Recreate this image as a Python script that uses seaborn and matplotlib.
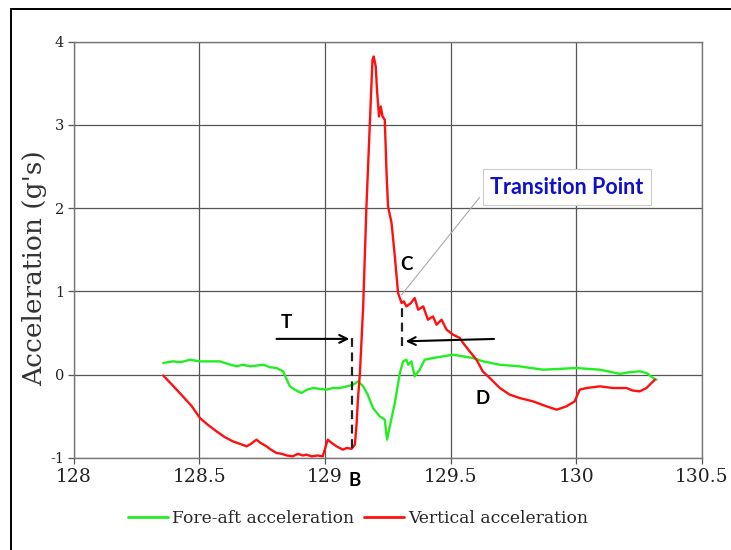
import numpy as np
import pandas as pd
import matplotlib
matplotlib.use("Agg")
import matplotlib.pyplot as plt
from matplotlib.lines import Line2D
import seaborn as sns

# Time (s) and accelerations (g's)
vertical_time = [128.356, 128.394, 128.434, 128.470, 128.502, 128.533, 128.568, 128.601,
                 128.633, 128.661, 128.688, 128.705, 128.727, 128.744, 128.767, 128.785,
                 128.807, 128.828, 128.848, 128.872, 128.892, 128.912, 128.926, 128.947,
                 128.971, 128.991, 129.001, 129.011, 129.027, 129.046, 129.071, 129.087,
                 129.106, 129.119, 129.126, 129.131, 129.139, 129.152, 129.165, 129.178,
                 129.189, 129.194, 129.202, 129.207, 129.215, 129.222, 129.229, 129.238,
                 129.245, 129.251, 129.265, 129.278, 129.291, 129.305, 129.314, 129.324,
                 129.342, 129.357, 129.371, 129.391, 129.410, 129.430, 129.444, 129.464,
                 129.484, 129.510, 129.537, 129.550, 129.576, 129.603, 129.628, 129.656,
                 129.696, 129.736, 129.775, 129.828, 129.882, 129.922, 129.961, 129.994,
                 130.014, 130.041, 130.094, 130.147, 130.200, 130.225, 130.253, 130.280,
                 130.313]
vertical_acc = [-0.01, -0.13, -0.26, -0.38, -0.52, -0.60, -0.68, -0.75,
                -0.80, -0.83, -0.86, -0.83, -0.78, -0.82, -0.86, -0.90,
                -0.94, -0.95, -0.97, -0.98, -0.95, -0.97, -0.96, -0.98,
                -0.97, -0.98, -0.88, -0.78, -0.82, -0.86, -0.90, -0.88,
                -0.89, -0.84, -0.58, -0.30, 0.02, 0.82, 2.02, 2.98,
                3.78, 3.82, 3.70, 3.42, 3.10, 3.22, 3.10, 3.06,
                2.42, 2.02, 1.82, 1.42, 0.98, 0.86, 0.88, 0.82,
                0.86, 0.92, 0.78, 0.82, 0.66, 0.70, 0.60, 0.66,
                0.54, 0.48, 0.44, 0.38, 0.28, 0.18, 0.04, -0.04,
                -0.16, -0.24, -0.28, -0.32, -0.38, -0.42, -0.38, -0.32,
                -0.18, -0.16, -0.14, -0.16, -0.16, -0.19, -0.20, -0.16,
                -0.06]

foreaft_time = [128.356, 128.395, 128.426, 128.462, 128.502, 128.541, 128.581, 128.613,
                128.648, 128.673, 128.701, 128.729, 128.754, 128.780, 128.807, 128.833,
                128.860, 128.880, 128.906, 128.928, 128.953, 128.979, 129.006, 129.031,
                129.059, 129.087, 129.112, 129.132, 129.152, 129.170, 129.191, 129.218,
                129.238, 129.247, 129.258, 129.278, 129.298, 129.311, 129.324, 129.331,
                129.344, 129.357, 129.377, 129.397, 129.430, 129.470, 129.510, 129.550,
                129.590, 129.629, 129.696, 129.775, 129.868, 129.935, 130.001, 130.094,
                130.174, 130.213, 130.253, 130.281, 130.306, 130.320]
foreaft_acc = [0.14, 0.16, 0.15, 0.18, 0.16, 0.16, 0.16, 0.13,
               0.10, 0.12, 0.10, 0.11, 0.12, 0.09, 0.08, 0.04,
               -0.14, -0.18, -0.22, -0.18, -0.16, -0.17, -0.18, -0.16,
               -0.16, -0.14, -0.12, -0.08, -0.14, -0.24, -0.40, -0.50,
               -0.54, -0.78, -0.62, -0.34, 0.02, 0.16, 0.18, 0.12,
               0.16, -0.02, 0.06, 0.18, 0.20, 0.22, 0.24, 0.22,
               0.20, 0.16, 0.12, 0.10, 0.06, 0.07, 0.08, 0.06,
               0.01, 0.03, 0.04, 0.02, -0.04, -0.06]

x_ticks = [128, 128.5, 129, 129.5, 130, 130.5]
x_tick_labels = ["128", "128.5", "129", "129.5", "130", "130.5"]
y_ticks = [-1, 0, 1, 2, 3, 4]
y_tick_labels = ["-1", "0", "1", "2", "3", "4"]

# Markers of the impact phases
t_bottom = 129.108        # B: start of the rise
t_transition = 129.305    # C: transition point
arrow_level = 0.43

sns.set_theme(style="white")
plt.rcParams["font.family"] = ["DejaVu Serif", "DejaVu Sans"]

fig = plt.figure(figsize=(7.31, 5.5), dpi=100)
ax = fig.add_axes([0.101, 0.1673, 0.859, 0.7572])

df_fa = pd.DataFrame({"t": foreaft_time, "a": foreaft_acc})
df_v = pd.DataFrame({"t": vertical_time, "a": vertical_acc})
sns.lineplot(data=df_fa, x="t", y="a", ax=ax, color="#22ee22", lw=1.7,
             sort=False, estimator=None, label="Fore-aft acceleration", zorder=3)
sns.lineplot(data=df_v, x="t", y="a", ax=ax, color="#ff1010", lw=1.7,
             sort=False, estimator=None, label="Vertical acceleration", zorder=4)

ax.set_xlim(128, 130.5)
ax.set_ylim(-1, 4)
ax.set_xticks(x_ticks)
ax.set_xticklabels(x_tick_labels, fontsize=13.5)
ax.set_yticks(y_ticks)
ax.set_yticklabels(y_tick_labels, fontsize=10.5)
ax.grid(True, color="#555555", lw=0.9)
for s in ax.spines.values():
    s.set_color("#777777")
    s.set_linewidth(1.0)
ax.tick_params(axis="both", direction="out", length=4, width=0.9, color="#555555",
               bottom=True, left=True, pad=3, labelcolor="#222222")
ax.set_xlabel("")
ax.set_ylabel("Acceleration (g's)", fontsize=19, color="#333333")
ax.yaxis.set_label_coords(-0.043, 0.456)

# Phase annotations
lab_font = dict(family=["Lato", "DejaVu Sans"], fontweight="bold", fontsize=13.5, color="black")
ax.plot([t_bottom, t_bottom], [-0.88, 0.46], ls=(0, (4, 2.5)), color="#222222", lw=1.6, zorder=5)
ax.plot([t_transition, t_transition], [0.34, 0.86], ls=(0, (4, 2.5)), color="#222222", lw=1.6, zorder=5)
ax.annotate("", xy=(t_bottom, arrow_level), xytext=(128.796, arrow_level),
            arrowprops=dict(arrowstyle="->", color="black", lw=1.5, mutation_scale=14), zorder=6)
ax.annotate("", xy=(t_transition + 0.005, 0.40), xytext=(129.684, arrow_level),
            arrowprops=dict(arrowstyle="->", color="black", lw=1.5, mutation_scale=14), zorder=6)
ax.text(128.848, 0.63, "T", ha="center", va="center", **lab_font)
ax.text(129.326, 1.32, "C", ha="center", va="center", **lab_font)
ax.text(129.628, -0.28, "D", ha="center", va="center", **lab_font)
ax.text(129.119, -1.27, "B", ha="center", va="center", clip_on=False, **lab_font)

ax.plot([t_transition, 129.616], [0.96, 2.13], color="#aaaaaa", lw=0.8, zorder=5)
ax.text(129.963, 2.25, "Transition Point", ha="center", va="center",
        family=["Lato", "DejaVu Sans"], fontweight="bold", fontsize=15.5, color="#1010cc",
        bbox=dict(boxstyle="square,pad=0.35", fc="white", ec="#cccccc", lw=0.8), zorder=7)

leg = ax.legend(loc="center", bbox_to_anchor=(0.49, 0.058), bbox_transform=fig.transFigure,
                ncol=2, frameon=False, fontsize=12.3, handlelength=2.3, handletextpad=0.25,
                columnspacing=0.6)
for line in leg.get_lines():
    line.set_linewidth(2.0)

# Frame lines along the top and left edges
fig.add_artist(Line2D([11 / 731, 1.0], [1 - 9 / 550, 1 - 9 / 550], color="black", lw=1.4,
                      transform=fig.transFigure))
fig.add_artist(Line2D([11 / 731, 11 / 731], [0.0, 1 - 9 / 550], color="black", lw=1.4,
                      transform=fig.transFigure))

fig.savefig("out.png", dpi=100, facecolor="white")
